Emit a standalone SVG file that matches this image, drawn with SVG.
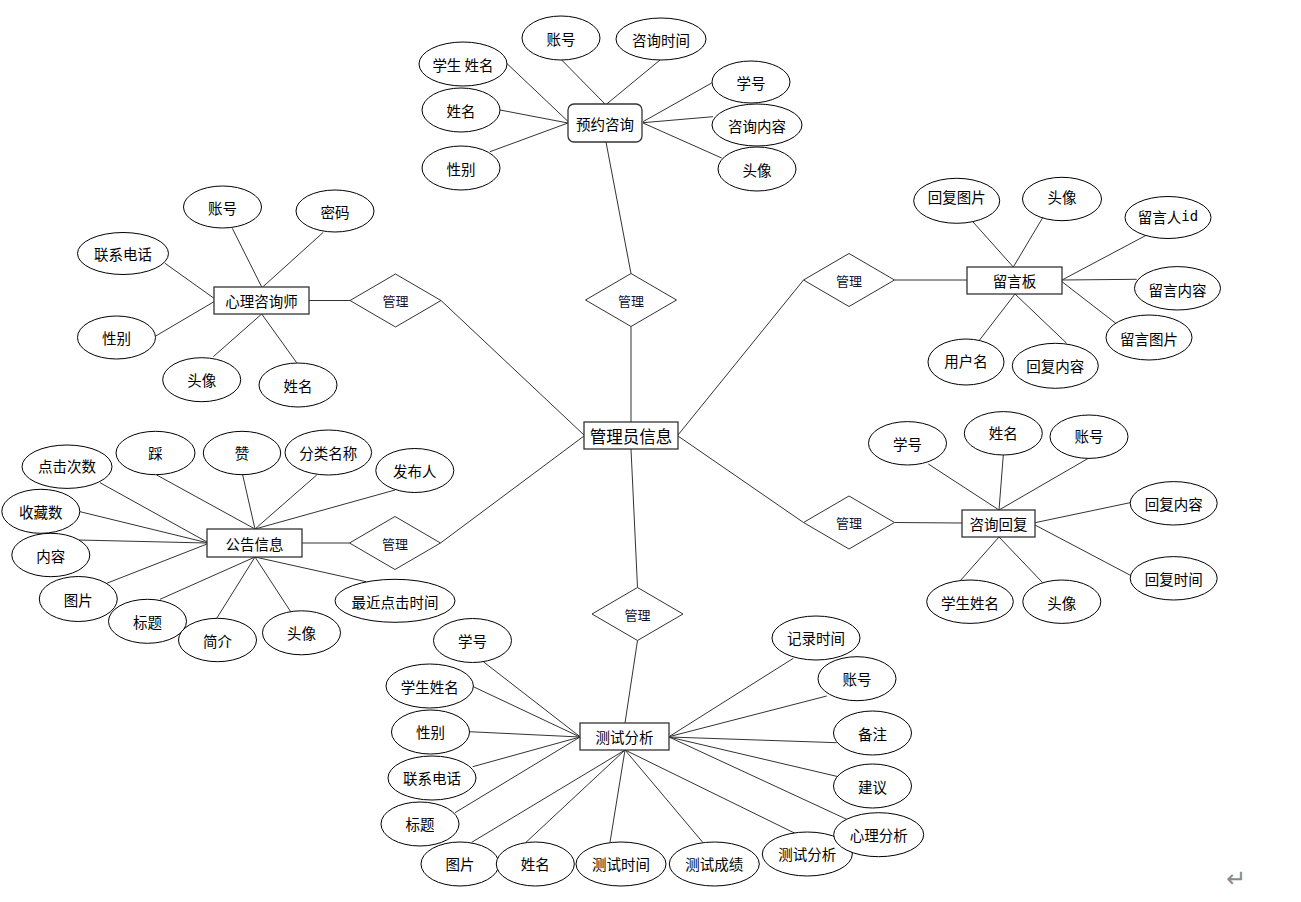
<svg xmlns="http://www.w3.org/2000/svg" width="1301" height="902" viewBox="0 0 1301 902">
<style>
.bg{fill:#ffffff}
.attr{fill:#ffffff;stroke:#000000;stroke-width:1}
.ent{fill:#ffffff;stroke:#333333;stroke-width:1.3}
.rel{fill:#ffffff;stroke:#333333;stroke-width:1}
.ln{stroke:#333333;stroke-width:1;fill:none}
text{font-family:"Noto Sans CJK SC","Microsoft YaHei",sans-serif;font-size:14.5px;fill:#000000;text-anchor:middle;dominant-baseline:central}
.big{font-size:16.5px}
.sm{font-size:13px;fill:#111133}
.mono{font-family:"DejaVu Sans Mono","Noto Sans CJK SC",monospace;font-size:14px}
.mark{font-family:"DejaVu Sans",sans-serif;font-size:24px;fill:#8a8a8a}
</style>
<rect class="bg" x="0" y="0" width="1301" height="902"/>
<g id="connectors">
<line class="ln" x1="606" y1="142" x2="631" y2="273.5"/>
<line class="ln" x1="631" y1="326.5" x2="631" y2="422"/>
<line class="ln" x1="309" y1="300.5" x2="350" y2="300.5"/>
<line class="ln" x1="441" y1="300.5" x2="584" y2="435"/>
<line class="ln" x1="967" y1="280" x2="894.5" y2="280"/>
<line class="ln" x1="803.5" y1="280" x2="678" y2="435"/>
<line class="ln" x1="302" y1="543" x2="349.5" y2="543"/>
<line class="ln" x1="440.5" y1="543" x2="584" y2="436"/>
<line class="ln" x1="962" y1="523" x2="894.5" y2="522.5"/>
<line class="ln" x1="803.5" y1="522.5" x2="678" y2="436"/>
<line class="ln" x1="631" y1="449" x2="637.5" y2="587.5"/>
<line class="ln" x1="637.5" y1="640.5" x2="625" y2="723"/>
<line class="ln" x1="561.7" y1="60" x2="605" y2="104"/>
<line class="ln" x1="660" y1="60" x2="606.7" y2="104"/>
<line class="ln" x1="506.7" y1="63.3" x2="568.3" y2="121.7"/>
<line class="ln" x1="500" y1="110" x2="568" y2="123"/>
<line class="ln" x1="490" y1="151.7" x2="568" y2="123"/>
<line class="ln" x1="711.7" y1="83" x2="643" y2="121.7"/>
<line class="ln" x1="713" y1="116.7" x2="643" y2="122.7"/>
<line class="ln" x1="721.7" y1="158" x2="643" y2="123"/>
<line class="ln" x1="232.3" y1="228.3" x2="261.7" y2="287"/>
<line class="ln" x1="323.3" y1="232.3" x2="262.7" y2="287"/>
<line class="ln" x1="165" y1="263.3" x2="214" y2="298.3"/>
<line class="ln" x1="155.7" y1="336" x2="214" y2="301.7"/>
<line class="ln" x1="213.3" y1="356.7" x2="261.7" y2="314"/>
<line class="ln" x1="296.7" y1="362.7" x2="261.7" y2="314"/>
<line class="ln" x1="968.3" y1="216.7" x2="1013.3" y2="267"/>
<line class="ln" x1="1043.3" y1="216.7" x2="1013.3" y2="267"/>
<line class="ln" x1="1146.7" y1="235" x2="1062" y2="280"/>
<line class="ln" x1="1136.7" y1="279.3" x2="1062" y2="280"/>
<line class="ln" x1="1116.7" y1="324" x2="1062" y2="281.7"/>
<line class="ln" x1="978.3" y1="341.7" x2="1015" y2="294"/>
<line class="ln" x1="1066.7" y1="343.3" x2="1015" y2="294"/>
<line class="ln" x1="100" y1="482.7" x2="207" y2="542"/>
<line class="ln" x1="80" y1="511.7" x2="207" y2="542.7"/>
<line class="ln" x1="78.3" y1="540" x2="207" y2="543"/>
<line class="ln" x1="106.7" y1="583.3" x2="207" y2="544"/>
<line class="ln" x1="156.7" y1="475" x2="255" y2="529"/>
<line class="ln" x1="242.7" y1="475" x2="255" y2="529"/>
<line class="ln" x1="316.7" y1="475" x2="255" y2="529"/>
<line class="ln" x1="395" y1="490" x2="255" y2="529"/>
<line class="ln" x1="160" y1="599.3" x2="255" y2="557"/>
<line class="ln" x1="216.7" y1="618.3" x2="255" y2="557"/>
<line class="ln" x1="290.7" y1="611.7" x2="255" y2="557"/>
<line class="ln" x1="366" y1="581.7" x2="255" y2="557"/>
<line class="ln" x1="928.3" y1="464" x2="999" y2="510"/>
<line class="ln" x1="1003.3" y1="455" x2="999" y2="510"/>
<line class="ln" x1="1088.3" y1="458.3" x2="999" y2="510"/>
<line class="ln" x1="1130" y1="502.7" x2="1035" y2="522.7"/>
<line class="ln" x1="1131.7" y1="576" x2="1035" y2="525"/>
<line class="ln" x1="960" y1="581" x2="999" y2="537"/>
<line class="ln" x1="1042.7" y1="582.7" x2="999" y2="537"/>
<line class="ln" x1="483.3" y1="661.7" x2="580" y2="736.7"/>
<line class="ln" x1="473.3" y1="686.7" x2="580" y2="737"/>
<line class="ln" x1="469.3" y1="731.7" x2="580" y2="737"/>
<line class="ln" x1="472.7" y1="766.7" x2="580" y2="737"/>
<line class="ln" x1="455" y1="812.7" x2="580" y2="737"/>
<line class="ln" x1="471.7" y1="842.3" x2="625" y2="750"/>
<line class="ln" x1="526" y1="842.3" x2="625" y2="750"/>
<line class="ln" x1="610" y1="842.3" x2="625" y2="750"/>
<line class="ln" x1="702.7" y1="842.3" x2="625" y2="750"/>
<line class="ln" x1="795" y1="833.3" x2="625" y2="750"/>
<line class="ln" x1="793.3" y1="658.3" x2="669" y2="736.7"/>
<line class="ln" x1="826.7" y1="696" x2="669" y2="736.7"/>
<line class="ln" x1="836.7" y1="742.7" x2="669" y2="737"/>
<line class="ln" x1="838.3" y1="776.7" x2="669" y2="737"/>
<line class="ln" x1="846.7" y1="819.3" x2="669" y2="737"/>
</g>

<g id="e-yuyue"><rect class="ent" x="568" y="104" width="74" height="38" rx="6"/><text x="605" y="123">预约咨询</text></g>
<g id="e-xinli"><rect class="ent" x="214" y="287" width="95" height="27"/><text x="261.5" y="300.5">心理咨询师</text></g>
<g id="e-admin"><rect class="ent" x="584" y="422" width="94" height="27"/><text class="big" x="631" y="435.5">管理员信息</text></g>
<g id="e-liuyan"><rect class="ent" x="967" y="267" width="95" height="27"/><text x="1014.5" y="280.5">留言板</text></g>
<g id="e-gonggao"><rect class="ent" x="207" y="529" width="95" height="28"/><text x="254.5" y="543">公告信息</text></g>
<g id="e-huifu"><rect class="ent" x="962" y="510" width="73" height="27"/><text x="998.5" y="523.5">咨询回复</text></g>
<g id="e-ceshi"><rect class="ent" x="580" y="723" width="89" height="27"/><text x="624.5" y="736.5">测试分析</text></g>

<g id="r-1"><polygon class="rel" points="585.5,300 631,273.5 676.5,300 631,326.5"/><text class="sm" x="631" y="300">管理</text></g>
<g id="r-2"><polygon class="rel" points="350,300.5 395.5,274 441,300.5 395.5,327"/><text class="sm" x="395.5" y="300.5">管理</text></g>
<g id="r-3"><polygon class="rel" points="803.5,280 849,253.5 894.5,280 849,306.5"/><text class="sm" x="849" y="280">管理</text></g>
<g id="r-4"><polygon class="rel" points="349.5,543 395,516.5 440.5,543 395,569.5"/><text class="sm" x="395" y="543">管理</text></g>
<g id="r-5"><polygon class="rel" points="803.5,522.5 849,496 894.5,522.5 849,549"/><text class="sm" x="849" y="522.5">管理</text></g>
<g id="r-6"><polygon class="rel" points="592,614 637.5,587.5 683,614 637.5,640.5"/><text class="sm" x="637.5" y="614">管理</text></g>

<g id="a-yy-zh"><ellipse class="attr" cx="561" cy="38" rx="39" ry="22"/><text x="561" y="38">账号</text></g>
<g id="a-yy-sj"><ellipse class="attr" cx="661" cy="39" rx="45" ry="21"/><text x="661" y="39">咨询时间</text></g>
<g id="a-yy-xsxm"><ellipse class="attr" cx="463" cy="64" rx="44" ry="22"/><text x="463" y="64">学生 姓名</text></g>
<g id="a-yy-xm"><ellipse class="attr" cx="461" cy="110" rx="39" ry="22"/><text x="461" y="110">姓名</text></g>
<g id="a-yy-xb"><ellipse class="attr" cx="461" cy="168" rx="39" ry="22"/><text x="461" y="168">性别</text></g>
<g id="a-yy-xh"><ellipse class="attr" cx="751" cy="82" rx="39" ry="21"/><text x="751" y="82">学号</text></g>
<g id="a-yy-nr"><ellipse class="attr" cx="757" cy="125" rx="45" ry="21"/><text x="757" y="125">咨询内容</text></g>
<g id="a-yy-tx"><ellipse class="attr" cx="757" cy="169" rx="39" ry="22"/><text x="757" y="169">头像</text></g>

<g id="a-xl-zh"><ellipse class="attr" cx="222.5" cy="207" rx="39" ry="21"/><text x="222.5" y="207">账号</text></g>
<g id="a-xl-mm"><ellipse class="attr" cx="335" cy="211" rx="39" ry="21"/><text x="335" y="211">密码</text></g>
<g id="a-xl-dh"><ellipse class="attr" cx="123" cy="253.5" rx="45.5" ry="21"/><text x="123" y="253.5">联系电话</text></g>
<g id="a-xl-xb"><ellipse class="attr" cx="116.5" cy="337.5" rx="39" ry="21.5"/><text x="116.5" y="337.5">性别</text></g>
<g id="a-xl-tx"><ellipse class="attr" cx="201.7" cy="379.7" rx="39" ry="22"/><text x="201.7" y="379.7">头像</text></g>
<g id="a-xl-xm"><ellipse class="attr" cx="298" cy="385" rx="39" ry="22"/><text x="298" y="385">姓名</text></g>

<g id="a-ly-hftp"><ellipse class="attr" cx="956.7" cy="200.8" rx="43" ry="22.5"/><text x="956.7" y="196">回复图片</text></g>
<g id="a-ly-tx"><ellipse class="attr" cx="1062" cy="199" rx="39.5" ry="21.7"/><text x="1062" y="196">头像</text></g>
<g id="a-ly-id"><ellipse class="attr" cx="1168" cy="217.5" rx="43" ry="21"/><text x="1168" y="216"><tspan>留言人</tspan><tspan class="mono">id</tspan></text></g>
<g id="a-ly-nr"><ellipse class="attr" cx="1177.5" cy="288.3" rx="43" ry="21.7"/><text x="1177.5" y="289">留言内容</text></g>
<g id="a-ly-tp"><ellipse class="attr" cx="1149" cy="337.5" rx="43" ry="22.5"/><text x="1149" y="338">留言图片</text></g>
<g id="a-ly-yhm"><ellipse class="attr" cx="966" cy="362" rx="38" ry="23"/><text x="966" y="360">用户名</text></g>
<g id="a-ly-hfnr"><ellipse class="attr" cx="1055.3" cy="365.8" rx="43" ry="22.5"/><text x="1055.3" y="365.8">回复内容</text></g>

<g id="a-gg-djcs"><ellipse class="attr" cx="67" cy="466.7" rx="45" ry="21.7"/><text x="67" y="465">点击次数</text></g>
<g id="a-gg-cai"><ellipse class="attr" cx="155.5" cy="453" rx="39.5" ry="21.7"/><text x="155.5" y="452">踩</text></g>
<g id="a-gg-zan"><ellipse class="attr" cx="242" cy="453" rx="38.7" ry="21.7"/><text x="242" y="452">赞</text></g>
<g id="a-gg-fl"><ellipse class="attr" cx="328.3" cy="452.5" rx="43.3" ry="22.5"/><text x="328.3" y="452">分类名称</text></g>
<g id="a-gg-fbr"><ellipse class="attr" cx="414.8" cy="470.5" rx="39" ry="22"/><text x="414.8" y="470">发布人</text></g>
<g id="a-gg-scs"><ellipse class="attr" cx="40.8" cy="511.3" rx="39" ry="22"/><text x="40.8" y="511">收藏数</text></g>
<g id="a-gg-nr"><ellipse class="attr" cx="50.8" cy="555" rx="39" ry="21.7"/><text x="50.8" y="555">内容</text></g>
<g id="a-gg-tp"><ellipse class="attr" cx="78.3" cy="599" rx="39" ry="22.5"/><text x="78.3" y="599">图片</text></g>
<g id="a-gg-bt"><ellipse class="attr" cx="147.5" cy="621.3" rx="39" ry="22"/><text x="147.5" y="621">标题</text></g>
<g id="a-gg-jj"><ellipse class="attr" cx="217.5" cy="640" rx="39" ry="21.7"/><text x="217.5" y="640">简介</text></g>
<g id="a-gg-tx"><ellipse class="attr" cx="301.5" cy="632.8" rx="39" ry="22"/><text x="301.5" y="632">头像</text></g>
<g id="a-gg-zj"><ellipse class="attr" cx="395" cy="600.8" rx="60" ry="21.5"/><text x="395" y="601">最近点击时间</text></g>

<g id="a-hf-xh"><ellipse class="attr" cx="907.5" cy="443.3" rx="39" ry="21.7"/><text x="907.5" y="443">学号</text></g>
<g id="a-hf-xm"><ellipse class="attr" cx="1003.3" cy="433.3" rx="39" ry="21.7"/><text x="1003.3" y="432">姓名</text></g>
<g id="a-hf-zh"><ellipse class="attr" cx="1089" cy="436.7" rx="39" ry="21.7"/><text x="1089" y="435">账号</text></g>
<g id="a-hf-nr"><ellipse class="attr" cx="1173.7" cy="503.3" rx="43.5" ry="21.7"/><text x="1173.7" y="503">回复内容</text></g>
<g id="a-hf-sj"><ellipse class="attr" cx="1173.7" cy="578.3" rx="43.5" ry="21.7"/><text x="1173.7" y="578">回复时间</text></g>
<g id="a-hf-xsxm"><ellipse class="attr" cx="970" cy="601.7" rx="43.3" ry="21.7"/><text x="970" y="602">学生姓名</text></g>
<g id="a-hf-tx"><ellipse class="attr" cx="1061.8" cy="601.7" rx="39" ry="21.7"/><text x="1061.8" y="602">头像</text></g>

<g id="a-cs-xh"><ellipse class="attr" cx="472.5" cy="640.5" rx="39" ry="22"/><text x="472.5" y="640">学号</text></g>
<g id="a-cs-xsxm"><ellipse class="attr" cx="429.7" cy="686" rx="43.7" ry="22"/><text x="429.7" y="686">学生姓名</text></g>
<g id="a-cs-xb"><ellipse class="attr" cx="430.5" cy="732" rx="39" ry="22"/><text x="430.5" y="731">性别</text></g>
<g id="a-cs-dh"><ellipse class="attr" cx="432" cy="778" rx="44" ry="22"/><text x="432" y="777">联系电话</text></g>
<g id="a-cs-bt"><ellipse class="attr" cx="420" cy="824" rx="39" ry="22"/><text x="420" y="823">标题</text></g>
<g id="a-cs-tp"><ellipse class="attr" cx="460" cy="864" rx="39" ry="22"/><text x="460" y="863">图片</text></g>
<g id="a-cs-xm"><ellipse class="attr" cx="535.3" cy="864" rx="39" ry="22"/><text x="535.3" y="863">姓名</text></g>
<g id="a-cs-sj"><ellipse class="attr" cx="621" cy="864" rx="45" ry="22"/><text x="621" y="863">测试时间</text></g>
<g id="a-cs-cj"><ellipse class="attr" cx="714.3" cy="864" rx="45" ry="22"/><text x="714.3" y="863">测试成绩</text></g>
<g id="a-cs-csfx"><ellipse class="attr" cx="807.3" cy="854" rx="45" ry="22"/><text x="807.3" y="853">测试分析</text></g>
<g id="a-cs-xlfx"><ellipse class="attr" cx="878.7" cy="834.7" rx="45" ry="22"/><text x="878.7" y="834">心理分析</text></g>
<g id="a-cs-jy"><ellipse class="attr" cx="872.5" cy="786" rx="39" ry="22"/><text x="872.5" y="786">建议</text></g>
<g id="a-cs-bz"><ellipse class="attr" cx="872.5" cy="733" rx="39" ry="22"/><text x="872.5" y="733">备注</text></g>
<g id="a-cs-zh"><ellipse class="attr" cx="857" cy="678.7" rx="39" ry="22"/><text x="857" y="678">账号</text></g>
<g id="a-cs-jlsj"><ellipse class="attr" cx="816" cy="638" rx="44" ry="22"/><text x="816" y="637">记录时间</text></g>

<text class="mark" x="1236" y="879">↵</text>
</svg>
